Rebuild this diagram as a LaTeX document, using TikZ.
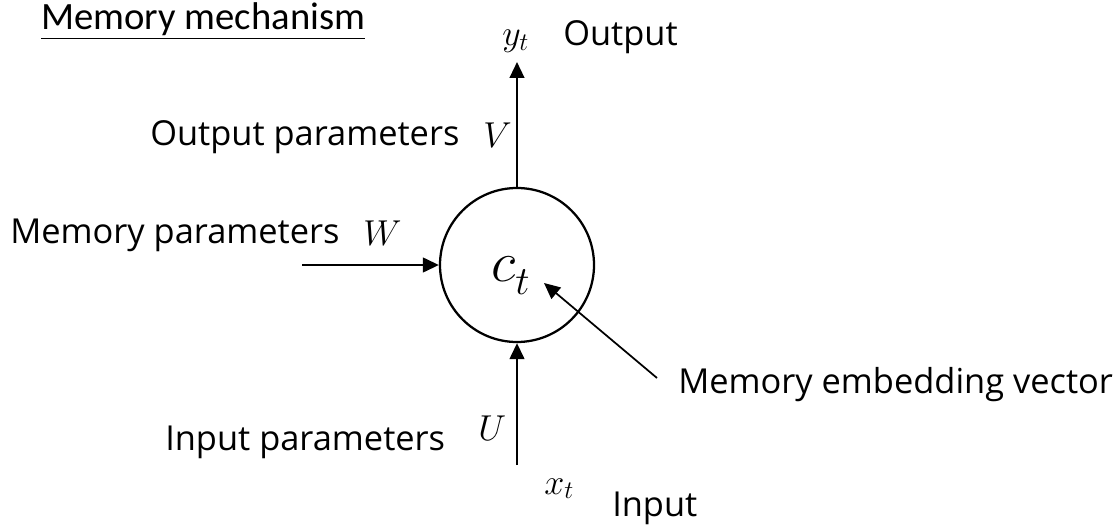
\documentclass[tikz,border=0pt]{standalone}
\usepackage{fontspec}
\setmainfont{Open Sans}
\newfontfamily\headfont{Carlito}
\DeclareFontShape{OML}{cmm}{m}{it}{<-7.5>cmmi7<7.5-11>cmmi10<11->cmmi12}{}
\usetikzlibrary{arrows.meta,positioning}

\begin{document}
\begin{tikzpicture}[x=0.75pt,y=-0.75pt,
  arrow/.style={-{Triangle[length=12pt,width=11pt]},line width=1.7pt},
  cell/.style={circle,draw,line width=1.7pt,minimum size=115.5pt,inner sep=0pt},
  label/.style={font=\fontsize{25.8}{30}\selectfont,inner sep=0pt,anchor=base west},
  sym/.style={font=\fontsize{27}{31}\selectfont,inner sep=0pt,anchor=base west},
  title/.style={font=\headfont\fontsize{29}{33}\selectfont,inner sep=0pt,anchor=base west}
]
\useasboundingbox (0,0) rectangle (1119,524);

%% memory cell
\node[cell] (mem) at (517,265) {};
\node[font=\fontsize{43}{47}\selectfont,inner sep=0pt,anchor=base west] (ct) at (491,281) {$c_t$};

%% free ends
\coordinate (top)  at (517,62);
\coordinate (left) at (302,265);
\coordinate (bot)  at (517,465);
\coordinate (tail) at (657,378);
\coordinate (ptr)  at (544,283);

%% texts
\node[title] (head) at (41,30) {\underline{Memory mechanism}};
\node[sym]   (yt)   at (502,46)  {$y_t$};
\node[label] (out)  at (563,46)  {Output};
\node[label] (opar) at (150,146) {Output parameters};
\node[sym]   (vv)   at (483,147) {$V$};
\node[label] (mpar) at (10,243)  {Memory parameters};
\node[sym]   (ww)   at (363,245) {$W$};
\node[label] (emb)  at (678,393) {Memory embedding vector};
\node[label] (ipar) at (165,450) {Input parameters};
\node[sym]   (uu)   at (478,440) {$U$};
\node[sym]   (xt)   at (544,494) {$x_t$};
\node[label] (inp)  at (612,516) {Input};

%% arrows
\draw[arrow] (mem.north) -- (top);
\draw[arrow] (left) -- (mem.west);
\draw[arrow] (bot) -- (mem.south);
\draw[arrow,line width=1.3pt] (tail) -- (ptr);

\end{tikzpicture}
\end{document}
